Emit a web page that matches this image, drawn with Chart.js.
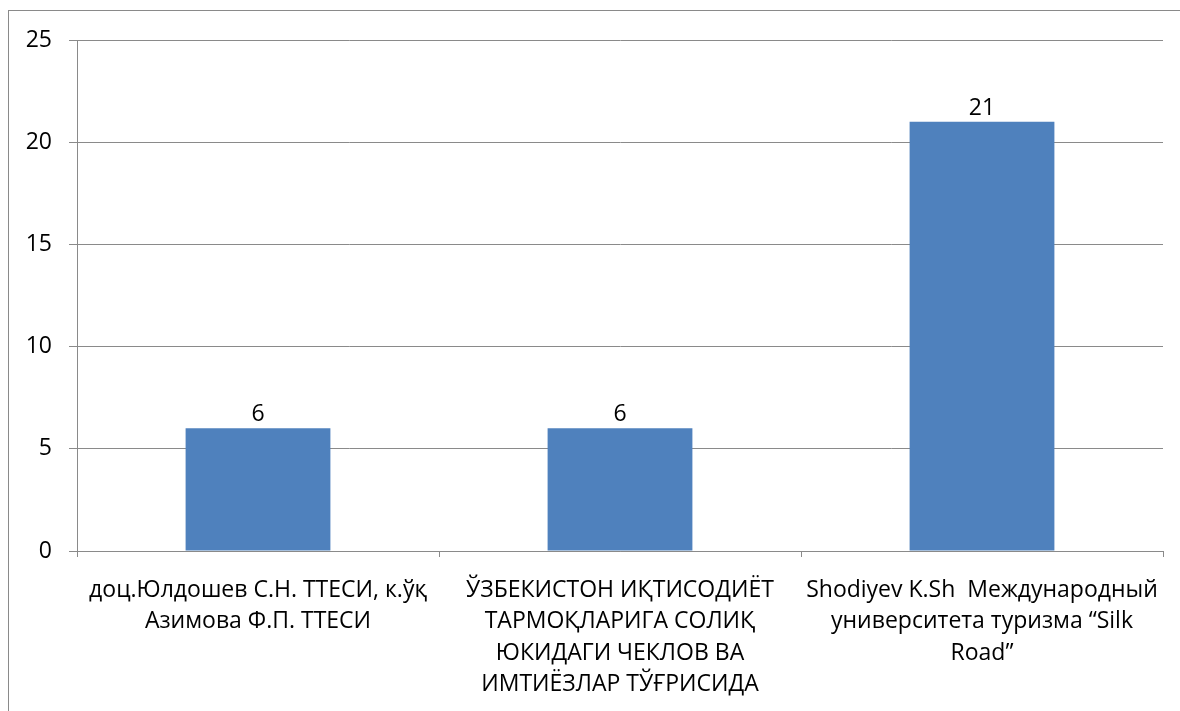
<!DOCTYPE html>
<html>
<head>
<meta charset="utf-8">
<title>Chart</title>
<script src="https://cdn.jsdelivr.net/npm/chart.js@4"></script>
<style>
    html, body { margin: 0; padding: 0; background: #fff; overflow: hidden; }
    #wrap { position: relative; width: 1180px; height: 711px; }
    #frame { position: absolute; left: 8px; top: 10px; width: 1200px; height: 720px; border: 1px solid #8a8a8a; }
    canvas { position: absolute; left: 0; top: 0; }
</style>
</head>
<body>
<div id="wrap">
    <div id="frame"></div>
    <canvas id="mycanvas" width="1180" height="711"></canvas>
</div>
<script>
// categories (already broken into lines like in the picture)
const categories = [
    ['доц.Юлдошев С.Н. ТТЕСИ, к.ўқ', 'Азимова Ф.П. ТТЕСИ'],
    ['ЎЗБЕКИСТОН ИҚТИСОДИЁТ', 'ТАРМОҚЛАРИГА СОЛИҚ', 'ЮКИДАГИ ЧЕКЛОВ ВА', 'ИМТИЁЗЛАР ТЎҒРИСИДА'],
    ['Shodiyev K.Sh  Международный', 'университета туризма “Silk', 'Road”']
];
const values = [6, 6, 21];
const yMin = 0;
const yMax = 25;
const yStep = 5;

const gridColor = '#8a8a8a';
const barColor = '#4f81bd';
const fontFamily = '"Open Sans", "Liberation Sans", sans-serif';

// draw the value above each bar
const barLabels = {
    id: 'barLabels',
    afterDatasetsDraw(chart) {
        let ctx = chart.ctx;
        let meta = chart.getDatasetMeta(0);
        ctx.save();
        ctx.font = '23px ' + fontFamily;
        ctx.fillStyle = '#000';
        ctx.textAlign = 'center';
        ctx.textBaseline = 'alphabetic';
        meta.data.forEach((bar, i) => {
            ctx.fillText(String(values[i]), bar.x, bar.y - 7);
        });
        ctx.restore();
    }
};

let ctx = document.getElementById('mycanvas').getContext('2d');

new Chart(ctx, {
    type: 'bar',
    data: {
        labels: categories,
        datasets: [{
            data: values,
            backgroundColor: barColor,
            borderWidth: 0,
            categoryPercentage: 1,
            barPercentage: 0.4
        }]
    },
    options: {
        responsive: false,
        animation: false,
        layout: {
            padding: { left: 0, top: 40, right: 17, bottom: 0 }
        },
        plugins: {
            legend: { display: false },
            tooltip: { enabled: false }
        },
        scales: {
            x: {
                grid: {
                    offset: true,
                    drawOnChartArea: false,
                    drawTicks: true,
                    tickLength: 6,
                    color: gridColor
                },
                border: { color: gridColor, width: 1 },
                ticks: {
                    color: '#000',
                    maxRotation: 0,
                    autoSkip: false,
                    padding: 18,
                    font: { family: fontFamily, size: 23, lineHeight: 1.36 }
                },
                afterFit(scale) { scale.height = 160; }
            },
            y: {
                min: yMin,
                max: yMax,
                grid: {
                    color: gridColor,
                    tickLength: 8
                },
                border: { color: gridColor, width: 1 },
                ticks: {
                    stepSize: yStep,
                    color: '#000',
                    padding: 17,
                    font: { family: fontFamily, size: 23 }
                },
                afterFit(scale) { scale.width = 77; }
            }
        }
    },
    plugins: [barLabels]
});
</script>
</body>
</html>
